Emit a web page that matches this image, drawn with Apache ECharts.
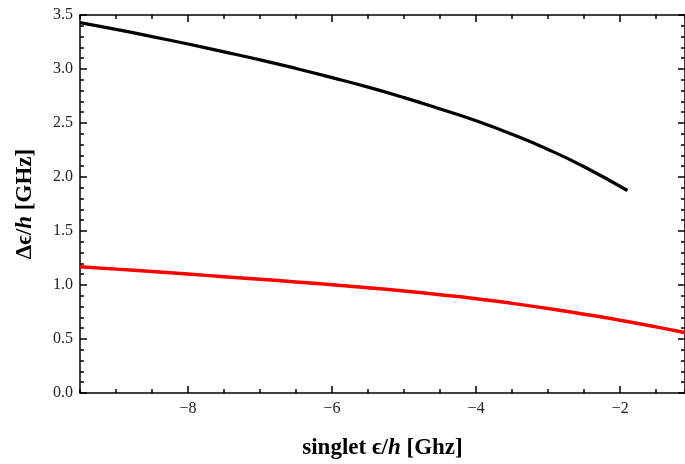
<!DOCTYPE html>
<html>
<head>
<meta charset="utf-8">
<script src="https://cdn.jsdelivr.net/npm/echarts@6/dist/echarts.min.js"></script>
<style>
html,body{margin:0;padding:0;background:#fff;}
#chart{width:685px;height:464px;}
</style>
</head>
<body>
<div id="chart"></div>
<script>
// upper (black) curve
const blackX=[-9.5,-9,-8.5,-8,-7.5,-7,-6.5,-6,-5.5,-5,-4.5,-4,-3.5,-3,-2.5,-1.9];
const blackY=[3.43,3.367,3.30,3.231,3.159,3.085,3.005,2.92,2.832,2.735,2.63,2.52,2.395,2.255,2.095,1.875];
// lower (red) curve
const redX=[-9.5,-9,-8.5,-8,-7.5,-7,-6.5,-6,-5.5,-5,-4.5,-4,-3.5,-3,-2.5,-2,-1.5,-1.07];
const redY=[1.17,1.147,1.124,1.101,1.077,1.053,1.028,1.002,0.974,0.944,0.91,0.873,0.83,0.783,0.73,0.674,0.612,0.555];
const xMajor=[-8,-6,-4,-2];

const serif="Liberation Serif, DejaVu Serif, serif";
const xMin=-9.5, xMax=-1.1;

const chart=echarts.init(document.getElementById('chart'));

function pairs(xs,ys){ return xs.map((x,i)=>[x,ys[i]]); }
const minus=v=>String(v).replace('-','\u2212');

const nameRich={
  b:{fontFamily:serif,fontWeight:'bold',fontSize:23,color:'#000'},
  i:{fontFamily:serif,fontWeight:'bold',fontStyle:'italic',fontSize:23,color:'#000'}
};

const lineStyle={color:'#000',width:1.5};

chart.setOption({
  animation:false,
  backgroundColor:'#fff',
  grid:{left:80,right:0,top:15,bottom:71,containLabel:false,outerBoundsMode:'none'},
  xAxis:[
    { // minor ticks, bottom
      type:'value',position:'bottom',min:xMin,max:xMax,interval:0.5,
      axisLine:{show:true,lineStyle:lineStyle},
      axisTick:{show:true,inside:true,length:4,lineStyle:lineStyle},
      axisLabel:{show:false},splitLine:{show:false}
    },
    { // major ticks + labels, bottom
      type:'value',position:'bottom',min:xMin,max:xMax,
      axisLine:{show:false},
      axisTick:{show:true,inside:true,length:7,customValues:xMajor,lineStyle:lineStyle},
      axisLabel:{show:true,customValues:xMajor,margin:8,fontFamily:serif,fontSize:16,color:'#222',
        formatter:v=>minus(v)},
      splitLine:{show:false},
      name:'{b|singlet ϵ/}{i|h}{b| [Ghz]}',nameLocation:'middle',nameGap:44,
      nameTextStyle:{rich:nameRich}
    },
    { // minor ticks, top
      type:'value',position:'top',min:xMin,max:xMax,interval:0.5,
      axisLine:{show:true,onZero:false,lineStyle:lineStyle},
      axisTick:{show:true,inside:true,length:4,lineStyle:lineStyle},
      axisLabel:{show:false},splitLine:{show:false}
    },
    { // major ticks, top
      type:'value',position:'top',min:xMin,max:xMax,
      axisLine:{show:false},
      axisTick:{show:true,inside:true,length:7,customValues:xMajor,lineStyle:lineStyle},
      axisLabel:{show:false},splitLine:{show:false}
    }
  ],
  yAxis:[
    {
      type:'value',position:'left',min:0,max:3.5,interval:0.5,
      axisLine:{show:true,lineStyle:lineStyle},
      axisTick:{show:true,inside:true,length:7,lineStyle:lineStyle},
      minorTick:{show:true,splitNumber:5,length:4,lineStyle:lineStyle},
      axisLabel:{margin:7,fontFamily:serif,fontSize:16,color:'#222',formatter:v=>v.toFixed(1)},
      splitLine:{show:false},minorSplitLine:{show:false},
      name:'{b|Δϵ/}{i|h}{b| [GHz]}',nameLocation:'middle',nameGap:43,
      nameTextStyle:{rich:nameRich}
    },
    {
      type:'value',position:'right',min:0,max:3.5,interval:0.5,
      axisLine:{show:true,onZero:false,lineStyle:lineStyle},
      axisTick:{show:true,inside:true,length:7,lineStyle:lineStyle},
      minorTick:{show:true,splitNumber:5,length:4,lineStyle:lineStyle},
      axisLabel:{show:false},splitLine:{show:false},minorSplitLine:{show:false}
    }
  ],
  series:[
    {
      type:'line',xAxisIndex:0,yAxisIndex:0,data:pairs(blackX,blackY),
      smooth:0.5,showSymbol:false,lineStyle:{color:'#000',width:3.2}
    },
    {
      type:'line',xAxisIndex:0,yAxisIndex:0,data:pairs(redX,redY),
      smooth:0.5,showSymbol:false,lineStyle:{color:'#ff0000',width:3.5}
    }
  ]
});
</script>
</body>
</html>
